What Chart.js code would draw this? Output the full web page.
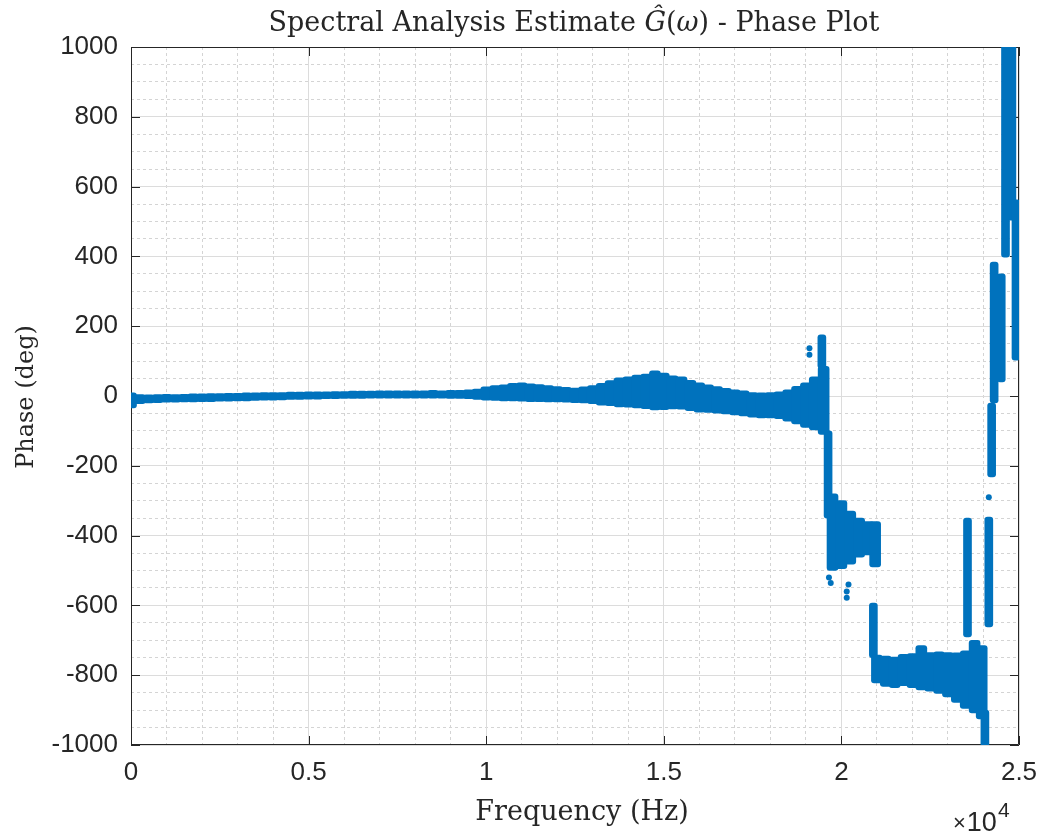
<!DOCTYPE html>
<html>
<head>
<meta charset="utf-8">
<title>Spectral Analysis Estimate - Phase Plot</title>
<script src="https://cdn.jsdelivr.net/npm/chart.js@4.4.0/dist/chart.umd.min.js"></script>
<style>
  html, body { margin: 0; padding: 0; background: #fff; }
</style>
</head>
<body>
<canvas id="phaseChart" width="1041" height="834"></canvas>
<script>
// --------------- Data ---------------
const xTickValues = [0, 5000, 10000, 15000, 20000, 25000];
const xTickLabels = ['0', '0.5', '1', '1.5', '2', '2.5'];
const yTickValues = [-1000, -800, -600, -400, -200, 0, 200, 400, 600, 800, 1000];
const yTickLabels = ['-1000', '-800', '-600', '-400', '-200', '0', '200', '400', '600', '800', '1000'];

// main scatter band before the phase starts to wrap (Hz, deg top / bottom of the cloud)
const bandFreq = [
  0, 250, 500, 750, 1000, 1250, 1500, 1750, 2000, 2250, 2500, 2750, 3000, 3250, 3500, 3750,
  4000, 4250, 4500, 4750, 5000, 5250, 5500, 5750, 6000, 6250, 6500, 6750, 7000, 7250, 7500, 7750,
  8000, 8250, 8500, 8750, 9000, 9250, 9500, 9750, 10000, 10250, 10500, 10750, 11000, 11250, 11500, 11750,
  12000, 12250, 12500, 12750, 13000, 13250, 13500, 13750, 14000, 14250, 14500, 14750, 15000, 15250, 15500, 15750,
  16000, 16250, 16500, 16750, 17000, 17250, 17500, 17750, 18000, 18250, 18500, 18750, 19000, 19250, 19500
];
const bandHigh = [
  9, 4, 3, 4, 5, 4, 5, 6, 6, 7, 7, 8, 8, 9, 9, 10,
  10, 10, 11, 11, 12, 12, 12, 13, 13, 14, 14, 14, 15, 15, 15, 15,
  15, 15, 16, 15, 16, 16, 18, 20, 26, 30, 32, 36, 38, 35, 33, 30,
  27, 25, 23, 26, 30, 36, 44, 52, 55, 60, 63, 72, 66, 58, 55, 45,
  38, 32, 27, 22, 18, 15, 10, 9, 10, 12, 18, 28, 38, 55, 85
];
const bandLow = [
  -34, -22, -20, -19, -18, -18, -17, -17, -16, -16, -15, -15, -14, -14, -13, -12,
  -12, -11, -10, -10, -9, -9, -8, -8, -7, -7, -7, -6, -6, -6, -6, -6,
  -6, -6, -6, -6, -7, -7, -8, -10, -12, -13, -14, -14, -15, -16, -16, -17,
  -17, -18, -19, -20, -22, -26, -28, -31, -32, -34, -36, -40, -39, -37, -38, -42,
  -46, -47, -49, -51, -54, -57, -61, -63, -63, -65, -72, -80, -90, -97, -110
];

// blocks after the first wraps (around -400 and -800 deg)
const blockFreq = [
  19750, 20000, 20250, 20500, 20750, 20950,
  21000, 21250, 21500, 21750, 22000, 22250, 22500, 22750, 23000, 23250, 23500, 23750, 23950
];
const blockHigh = [
  -280, -300, -330, -350, -360, -360,
  -742, -745, -748, -740, -738, -715, -735, -733, -735, -736, -730, -700, -715
];
const blockLow = [
  -500, -495, -482, -462, -455, -490,
  -822, -832, -836, -830, -836, -842, -846, -852, -862, -878, -895, -908, -925
];

// narrow vertical streaks of points
const streakFreq = [19450, 19625, 20900, 23550, 24150, 24040, 24230, 24300, 24500, 24620, 24800, 24915];
const streakHigh = [175, -100, -593, -350, -347, -900, -20, 384, 350, 1010, 1010, 562];
const streakLow = [80, -350, -750, -690, -662, -1020, -232, -20, 40, 398, 504, 103];

// stray single points
const dotFreq = [19100, 19100, 19650, 19700, 20150, 20150, 20200, 24150];
const dotPhase = [137, 118, -520, -536, -560, -578, -540, -290];

// --------------- Text ---------------
const titleParts = [
  { text: 'Spectral Analysis Estimate ', italic: false },
  { text: 'Ĝ', italic: true },
  { text: '(', italic: false },
  { text: 'ω', italic: true },
  { text: ') - Phase Plot', italic: false }
];
const xLabel = 'Frequency (Hz)';
const yLabel = 'Phase (deg)';
const xExponent = '4';

// --------------- Styles ---------------
const markColor = '#0072BD';
const axisColor = '#262626';
const majorGrid = '#dcdcdc';
const minorGrid = '#d4d4d4';
const serif = '"DejaVu Serif", "Liberation Serif", serif';
const sans = '"Liberation Sans", Arial, sans-serif';

// --------------- Helpers ---------------
function toRanges(freqs, highs, lows) {
  return freqs.map((f, i) => ({ x: f, y: [lows[i], highs[i]] }));
}

function fixWidth(w) {
  return scale => { scale.width = w; };
}
function fixHeight(h) {
  return scale => {
    scale.height = h;
    // keep the plot box fixed, labels may hang over the padding
    scale.paddingLeft = 0;
    scale.paddingRight = 0;
  };
}

// frame, inward ticks and all text MATLAB style
const matlabFrame = {
  id: 'matlabFrame',
  beforeDatasetsDraw(chart) {
    const { ctx, chartArea: a, scales } = chart;
    ctx.save();
    ctx.strokeStyle = axisColor;
    ctx.lineWidth = 1;
    ctx.beginPath();
    ctx.rect(a.left + 0.5, a.top + 0.5, a.right - a.left - 1, a.bottom - a.top - 1);
    const tick = 9;
    xTickValues.forEach(v => {
      const px = Math.round(scales.x.getPixelForValue(v)) + 0.5;
      ctx.moveTo(px, a.bottom); ctx.lineTo(px, a.bottom - tick);
      ctx.moveTo(px, a.top); ctx.lineTo(px, a.top + tick);
    });
    yTickValues.forEach(v => {
      const py = Math.round(scales.y.getPixelForValue(v)) + 0.5;
      ctx.moveTo(a.left, py); ctx.lineTo(a.left + tick, py);
      ctx.moveTo(a.right, py); ctx.lineTo(a.right - tick, py);
    });
    ctx.stroke();
    ctx.restore();
  },
  afterDraw(chart) {
    const { ctx } = chart;
    ctx.save();
    ctx.fillStyle = axisColor;
    ctx.textBaseline = 'alphabetic';

    // title with italic math parts
    const tSize = 27;
    let total = 0;
    titleParts.forEach(p => {
      ctx.font = (p.italic ? 'italic ' : '') + tSize + 'px ' + serif;
      p.w = ctx.measureText(p.text).width;
      total += p.w;
    });
    let tx = 574 - total / 2;
    titleParts.forEach(p => {
      ctx.font = (p.italic ? 'italic ' : '') + tSize + 'px ' + serif;
      ctx.textAlign = 'left';
      ctx.fillText(p.text, tx, 31);
      tx += p.w;
    });

    // axis labels
    ctx.font = '27px ' + serif;
    ctx.textAlign = 'center';
    ctx.fillText(xLabel, 582, 820);

    ctx.save();
    ctx.font = '24px ' + serif;
    ctx.translate(33, 397);
    ctx.rotate(-Math.PI / 2);
    ctx.fillText(yLabel, 0, 0);
    ctx.restore();

    // x10^4 exponent label
    ctx.textAlign = 'left';
    ctx.font = '22px ' + sans;
    ctx.fillText('×', 953, 830);
    const wx = ctx.measureText('×').width;
    ctx.font = '27px ' + sans;
    ctx.fillText('10', 953 + wx + 1, 831);
    const w10 = ctx.measureText('10').width;
    ctx.font = '21px ' + sans;
    ctx.fillText(xExponent, 953 + wx + w10 + 2, 817);
    ctx.restore();
  }
};

// --------------- Chart ---------------
const ctx = document.getElementById('phaseChart').getContext('2d');
const chart = new Chart(ctx, {
  type: 'bar',
  data: {
    datasets: [
      {
        label: 'band',
        data: toRanges(bandFreq, bandHigh, bandLow),
        backgroundColor: markColor,
        barThickness: 11,
        borderRadius: 3,
        borderSkipped: false,
        grouped: false
      },
      {
        label: 'blocks',
        data: toRanges(blockFreq, blockHigh, blockLow),
        backgroundColor: markColor,
        barThickness: 11,
        borderRadius: 3,
        borderSkipped: false,
        grouped: false
      },
      {
        label: 'streaks',
        data: toRanges(streakFreq, streakHigh, streakLow),
        backgroundColor: markColor,
        barThickness: 8,
        borderRadius: 3,
        borderSkipped: false,
        grouped: false
      },
      {
        type: 'scatter',
        label: 'points',
        data: dotFreq.map((f, i) => ({ x: f, y: dotPhase[i] })),
        backgroundColor: markColor,
        borderWidth: 0,
        pointRadius: 3
      }
    ]
  },
  options: {
    responsive: false,
    animation: false,
    layout: { padding: { top: 47, right: 22, left: 0, bottom: 0 } },
    plugins: {
      legend: { display: false },
      title: { display: false },
      tooltip: { enabled: false }
    },
    scales: {
      xMinor: {
        type: 'linear', axis: 'x', position: 'top',
        min: 0, max: 25000, offset: false,
        ticks: { display: false, stepSize: 1000 },
        grid: {
          offset: false,
          drawTicks: false,
          color: c => (c.tick && c.tick.value % 5000 === 0) ? 'rgba(0,0,0,0)' : minorGrid
        },
        border: { display: false, dash: [3, 3] },
        afterFit: fixHeight(0)
      },
      yMinor: {
        type: 'linear', axis: 'y', position: 'right',
        min: -1000, max: 1000,
        ticks: { display: false, stepSize: 50 },
        grid: {
          drawTicks: false,
          color: c => (c.tick && c.tick.value % 200 === 0) ? 'rgba(0,0,0,0)' : minorGrid
        },
        border: { display: false, dash: [3, 3] },
        afterFit: fixWidth(0)
      },
      x: {
        type: 'linear', position: 'bottom',
        min: 0, max: 25000, offset: false,
        afterBuildTicks: scale => { scale.ticks = xTickValues.map(v => ({ value: v })); },
        ticks: {
          color: axisColor,
          font: { family: sans, size: 26 },
          padding: 12,
          maxRotation: 0,
          callback: v => xTickLabels[xTickValues.indexOf(v)]
        },
        grid: { color: majorGrid, drawTicks: false, offset: false },
        border: { display: false },
        afterFit: fixHeight(89)
      },
      y: {
        type: 'linear', position: 'left',
        min: -1000, max: 1000,
        afterBuildTicks: scale => { scale.ticks = yTickValues.map(v => ({ value: v })); },
        ticks: {
          color: axisColor,
          font: { family: sans, size: 26 },
          padding: 13,
          callback: v => yTickLabels[yTickValues.indexOf(v)]
        },
        grid: { color: majorGrid, drawTicks: false },
        border: { display: false },
        afterFit: fixWidth(131)
      }
    }
  },
  plugins: [matlabFrame]
});
</script>
</body>
</html>
